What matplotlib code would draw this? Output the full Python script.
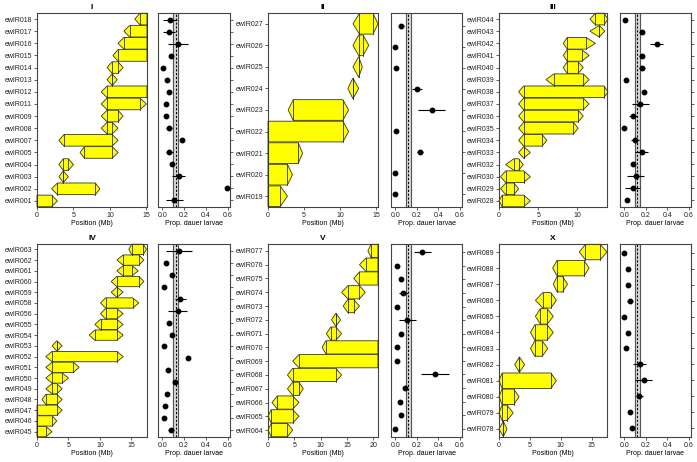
import numpy as np
import matplotlib
matplotlib.use("Agg")
import matplotlib.pyplot as plt
from matplotlib.patches import Polygon

plt.rcParams['font.family'] = ['Liberation Sans', 'DejaVu Sans']

# ---- chromosome I ----
names_I = ['ewIR018', 'ewIR017', 'ewIR016', 'ewIR015', 'ewIR014', 'ewIR013', 'ewIR012', 'ewIR011',
           'ewIR009', 'ewIR008', 'ewIR007', 'ewIR005', 'ewIR004', 'ewIR003', 'ewIR002', 'ewIR001']
lo_I = [13.4, 11.9, 11.1, 10.4, 9.6, 9.6, 8.8, 8.8, 8.8, 8.8, 3.0, 5.9, 3.0, 3.0, 2.0, 0]
li_I = [14.1, 12.7, 11.9, 11.1, 10.3, 10.3, 9.6, 9.6, 9.6, 9.6, 3.7, 6.5, 3.6, 3.6, 2.8, 0]
ri_I = [15.07, 15.07, 15.07, 15.07, 11.1, 10.3, 15.07, 14.1, 11.1, 10.3, 10.3, 10.3, 4.3, 3.6, 8.0, 2.0]
ro_I = [15.07, 15.07, 15.07, 15.07, 11.8, 11.0, 15.07, 15.0, 11.8, 11.1, 11.1, 11.1, 5.0, 4.3, 8.6, 2.8]
mean_I = [0.07, 0.06, 0.145, 0.08, 0.01, 0.04, 0.065, 0.03, 0.035, 0.06, 0.18, 0.065, 0.09, 0.15, 0.59, 0.11]
err_I = [0.06, 0.055, 0.09, 0.02, 0, 0, 0, 0, 0, 0.03, 0, 0.03, 0, 0.06, 0, 0.08]

# ---- chromosome II ----
names_II = ['ewIR027', 'ewIR026', 'ewIR025', 'ewIR024', 'ewIR023', 'ewIR022', 'ewIR021', 'ewIR020', 'ewIR019']
lo_II = [11.8, 11.8, 11.8, 11.1, 2.8, 0, 0, 0, 0]
li_II = [12.7, 12.6, 12.6, 11.8, 3.5, 0, 0, 0, 0]
ri_II = [14.6, 13.2, 12.6, 11.8, 10.4, 10.4, 4.2, 2.7, 1.7]
ro_II = [15.28, 14.0, 13.1, 12.6, 11.2, 11.2, 4.8, 3.4, 2.7]
mean_II = [0.055, 0.0, 0.005, 0.2, 0.34, 0.01, 0.23, 0.0, 0.0]
err_II = [0.03, 0, 0, 0.045, 0.125, 0, 0.03, 0, 0]

# ---- chromosome III ----
names_III = ['ewIR044', 'ewIR043', 'ewIR042', 'ewIR041', 'ewIR040', 'ewIR039', 'ewIR038', 'ewIR037',
             'ewIR036', 'ewIR035', 'ewIR034', 'ewIR033', 'ewIR032', 'ewIR030', 'ewIR029', 'ewIR028']
lo_III = [11.6, 11.6, 8.2, 8.2, 8.2, 6.0, 2.5, 2.5, 2.5, 2.5, 2.5, 2.5, 0.85, 0.2, 0.2, 0]
li_III = [12.3, 12.8, 8.7, 8.7, 8.7, 7.0, 3.15, 3.15, 3.15, 3.15, 3.15, 3.15, 1.9, 0.85, 0.85, 0.4]
ri_III = [13.4, 12.8, 11.1, 10.55, 10.1, 10.75, 13.4, 10.75, 10.1, 9.5, 5.5, 3.15, 2.5, 3.15, 1.9, 3.15]
ro_III = [13.9, 13.5, 12.3, 11.5, 10.75, 11.5, 13.9, 11.5, 10.75, 10.1, 6.1, 4.0, 3.1, 4.0, 2.5, 4.0]
mean_III = [0.005, 0.16, 0.30, 0.16, 0.165, 0.015, 0.18, 0.15, 0.08, 0.0, 0.10, 0.16, 0.08, 0.105, 0.08, 0.025]
err_III = [0, 0.02, 0.06, 0.02, 0.03, 0, 0, 0.08, 0.04, 0, 0.04, 0.06, 0, 0.08, 0.07, 0]

# ---- chromosome IV ----
names_IV = ['ewIR063', 'ewIR062', 'ewIR061', 'ewIR060', 'ewIR059', 'ewIR058', 'ewIR056', 'ewIR055', 'ewIR054',
            'ewIR053', 'ewIR052', 'ewIR051', 'ewIR050', 'ewIR049', 'ewIR048', 'ewIR047', 'ewIR046', 'ewIR045']
lo_IV = [14.6, 12.7, 12.7, 11.8, 11.8, 10.1, 10.1, 9.2, 8.3, 2.4, 1.4, 1.4, 1.4, 1.4, 0.8, 0, 0, 0]
li_IV = [15.05, 13.7, 13.7, 12.7, 12.7, 10.9, 10.9, 10.1, 9.2, 3.15, 2.4, 2.4, 2.4, 2.4, 1.4, 0, 0, 0]
ri_IV = [16.9, 16.2, 15.1, 16.2, 12.7, 15.2, 12.7, 12.7, 12.7, 3.15, 12.7, 5.8, 4.0, 3.15, 3.15, 3.15, 2.4, 1.4]
ro_IV = [17.4, 17.0, 16.1, 17.0, 13.7, 16.2, 13.7, 13.7, 13.7, 4.0, 13.7, 6.7, 5.0, 4.0, 4.0, 4.0, 3.15, 2.4]
# only 16 strains scored here
mean_IV = [0.155, 0.03, 0.09, 0.015, 0.165, 0.14, 0.06, 0.09, 0.015, 0.235, 0.05, 0.115, 0.04, 0.027, 0.015, 0.08]
err_IV = [0.12, 0, 0, 0, 0.05, 0.09, 0, 0, 0, 0.02, 0, 0, 0, 0, 0, 0.03]

# ---- chromosome V ----
names_V = ['ewIR077', 'ewIR076', 'ewIR075', 'ewIR074', 'ewIR073', 'ewIR072', 'ewIR071',
           'ewIR070', 'ewIR069', 'ewIR068', 'ewIR067', 'ewIR066', 'ewIR065', 'ewIR064']
lo_V = [19.0, 17.4, 16.3, 14.0, 14.3, 12.1, 11.1, 10.3, 4.7, 3.7, 3.7, 0.75, 0, 0]
li_V = [19.6, 18.6, 17.4, 15.2, 15.2, 12.9, 11.95, 11.0, 5.9, 4.7, 4.7, 1.8, 0.6, 0.6]
ri_V = [20.92, 20.92, 20.92, 17.4, 16.3, 12.9, 12.9, 20.92, 20.92, 12.9, 5.9, 4.7, 4.7, 3.7]
ro_V = [20.92, 20.92, 20.92, 18.5, 17.4, 13.8, 14.0, 20.92, 20.92, 14.0, 6.7, 5.9, 5.9, 4.7]
mean_V = [0.25, 0.015, 0.05, 0.075, 0.015, 0.11, 0.05, 0.02, 0.02, 0.365, 0.09, 0.04, 0.055, 0.0]
err_V = [0.08, 0, 0, 0.04, 0, 0.08, 0, 0, 0, 0.13, 0.015, 0, 0.015, 0]

# ---- chromosome X ----
names_X = ['ewIR089', 'ewIR088', 'ewIR087', 'ewIR086', 'ewIR085', 'ewIR084',
           'ewIR083', 'ewIR082', 'ewIR081', 'ewIR080', 'ewIR079', 'ewIR078']
lo_X = [13.0, 8.7, 8.8, 5.9, 5.9, 5.1, 5.1, 2.55, 0, 0, 0, 0]
li_X = [14.0, 9.4, 9.4, 7.1, 6.7, 5.8, 5.8, 3.3, 0.5, 0.5, 0.5, 0.7]
ri_X = [16.4, 13.8, 10.3, 8.4, 7.8, 7.8, 7.0, 3.3, 8.4, 2.4, 1.3, 0.7]
ro_X = [17.5, 14.6, 11.1, 9.3, 8.8, 8.8, 7.9, 4.15, 9.3, 3.25, 2.3, 1.3]
mean_X = [0.0, 0.035, 0.03, 0.055, 0.0, 0.03, 0.015, 0.145, 0.18, 0.14, 0.05, 0.07]
err_X = [0, 0, 0, 0.03, 0, 0, 0, 0.06, 0.08, 0.035, 0, 0]

chrom_len = {'I': 15.07, 'II': 15.28, 'III': 13.78, 'IV': 17.49, 'V': 20.92, 'X': 17.5}
xticks = {'I': [0, 5, 10, 15], 'II': [0, 5, 10, 15], 'III': [0, 5, 10],
          'IV': [0, 5, 10, 15], 'V': [0, 5, 10, 15, 20], 'X': [0, 5, 10, 15]}

# control (parent) mean with band
ctrl_lo, ctrl_mid, ctrl_hi = 0.1, 0.122, 0.145

panels = [
    ('I', names_I, lo_I, li_I, ri_I, ro_I, mean_I, err_I),
    ('II', names_II, lo_II, li_II, ri_II, ro_II, mean_II, err_II),
    ('III', names_III, lo_III, li_III, ri_III, ro_III, mean_III, err_III),
    ('IV', names_IV, lo_IV, li_IV, ri_IV, ro_IV, mean_IV, err_IV),
    ('V', names_V, lo_V, li_V, ri_V, ro_V, mean_V, err_V),
    ('X', names_X, lo_X, li_X, ri_X, ro_X, mean_X, err_X),
]

W, H = 697, 462
fig = plt.figure(figsize=(W / 100, H / 100), dpi=100)

# pixel boxes (left, right) for each column, (top, bottom) for each row
cols = [((37, 147), (158, 230)), ((268, 378), (391, 462)), ((499, 607), (620, 691))]
rows = [(13, 207), (244, 437)]

edge = '#333333'
fs = 5

for k, (chrom, names, lo, li, ri, ro, mean, err) in enumerate(panels):
    (l1, r1), (l2, r2) = cols[k % 3]
    top, bot = rows[k // 3]
    ax = fig.add_axes([l1 / W, 1 - bot / H, (r1 - l1) / W, (bot - top) / H])
    ax2 = fig.add_axes([l2 / W, 1 - bot / H, (r2 - l2) / W, (bot - top) / H])

    n = len(names)
    h = 0.96
    for i in range(n):
        y = n - 1 - i
        pts = [(lo[i], y), (li[i], y + h / 2), (ri[i], y + h / 2),
               (ro[i], y), (ri[i], y - h / 2), (li[i], y - h / 2)]
        ax.add_patch(Polygon(pts, closed=True, facecolor='#FFFF00', edgecolor=edge,
                             lw=0.6, clip_on=False, zorder=2))
        ax.plot([li[i], li[i]], [y - h / 2, y + h / 2], color=edge, lw=0.6, zorder=3, clip_on=False)
        ax.plot([ri[i], ri[i]], [y - h / 2, y + h / 2], color=edge, lw=0.6, zorder=3, clip_on=False)

    ax.set_xlim(0, chrom_len[chrom])
    ax.set_ylim(-0.5, n - 0.5)
    ax.set_yticks(np.arange(n))
    ax.set_yticklabels(names[::-1])
    ax.set_xticks(xticks[chrom])
    ax.set_xlabel('Position (Mb)', fontsize=fs, labelpad=1)
    ax.set_title(chrom, fontsize=6, fontweight='bold', pad=3)

    m = len(mean)
    yy = np.arange(m)[::-1]
    ax2.axvspan(ctrl_lo, ctrl_hi, color='#d9d9d9', zorder=0)
    ax2.axvline(ctrl_lo, color='#555555', lw=0.8, zorder=1)
    ax2.axvline(ctrl_hi, color='#555555', lw=0.8, zorder=1)
    ax2.axvline(ctrl_mid, color='black', lw=0.8, ls=(0, (2, 1.5)), zorder=1)
    ax2.errorbar(mean, yy, xerr=err, fmt='o', color='black', ms=3.2,
                 elinewidth=0.8, capsize=0, zorder=3)
    ax2.set_xlim(-0.04, 0.62)
    ax2.set_ylim(-0.6, m - 0.4)
    ax2.set_xticks([0.0, 0.2, 0.4, 0.6])
    ax2.set_xticklabels(['0.0', '0.2', '0.4', '0.6'])
    ax2.set_yticks(yy)
    ax2.yaxis.tick_right()
    ax2.set_yticklabels([])
    ax2.set_xlabel('Prop. dauer larvae', fontsize=fs, labelpad=1)

    for a in (ax, ax2):
        a.tick_params(labelsize=fs, length=2, width=0.5, pad=1.5, colors='#222222')
        for s in a.spines.values():
            s.set_color('#444444')
            s.set_linewidth(0.8)

fig.savefig('out.png', dpi=100)
